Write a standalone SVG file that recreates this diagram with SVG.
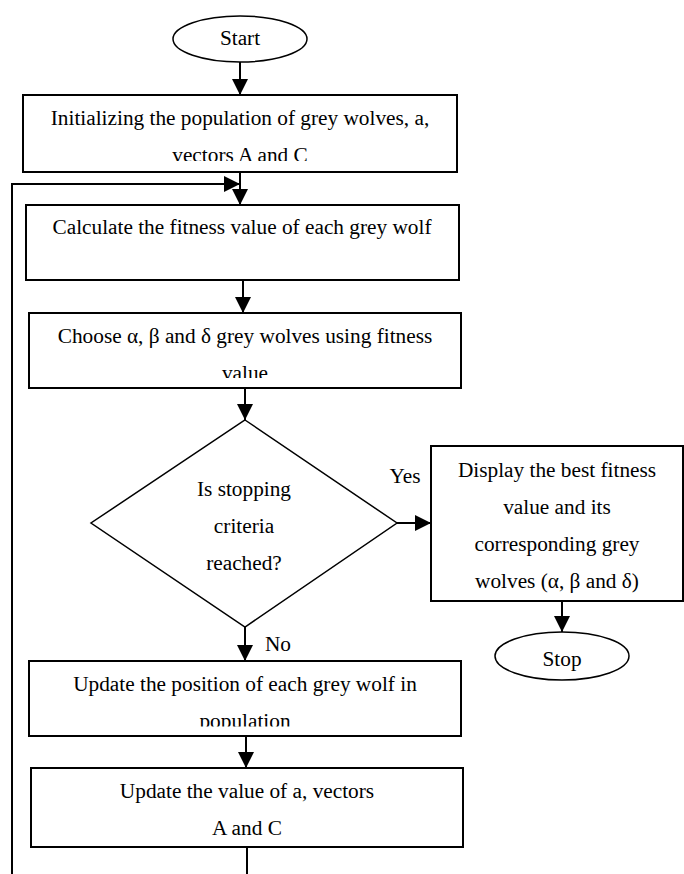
<svg xmlns="http://www.w3.org/2000/svg" width="684" height="874" viewBox="0 0 684 874">
<style>
text{font-family:"Liberation Serif","Times New Roman",serif;font-size:21.3px;fill:#000;text-anchor:middle}
.box{fill:#fff;stroke:#000;stroke-width:2}
.term{fill:#fff;stroke:#000;stroke-width:1.5}
.dec{fill:#fff;stroke:#000;stroke-width:1.5}
.con{fill:none;stroke:#000;stroke-width:2}
</style>
<defs>
<marker id="ah" markerUnits="userSpaceOnUse" markerWidth="16" markerHeight="16" viewBox="0 0 16 16" refX="16" refY="8" orient="auto">
<path d="M0,0 L16,8 L0,16 z" fill="#000"/>
</marker>
<clipPath id="c-init"><rect x="23" y="95" width="434" height="66"/></clipPath>
<clipPath id="c-choose"><rect x="29" y="313" width="432" height="65"/></clipPath>
<clipPath id="c-pos"><rect x="29" y="661" width="432" height="65.5"/></clipPath>
</defs>
<rect width="684" height="874" fill="#fff"/>
<g id="connectors">
<path class="con" d="M240,62 V95" marker-end="url(#ah)"/>
<path class="con" d="M240,172 V205" marker-end="url(#ah)"/>
<path class="con" d="M12,874 V184 H240" marker-end="url(#ah)"/>
<path class="con" d="M243,280 V313" marker-end="url(#ah)"/>
<path class="con" d="M245,388 V420" marker-end="url(#ah)"/>
<path class="con" d="M397,523 H431" marker-end="url(#ah)"/>
<path class="con" d="M562,601 V632" marker-end="url(#ah)"/>
<path class="con" d="M245,627 V661" marker-end="url(#ah)"/>
<path class="con" d="M246,736 V768" marker-end="url(#ah)"/>
<path class="con" d="M247,847 V874"/>
<text x="405" y="483">Yes</text>
<text x="278" y="651">No</text>
</g>
<g id="start">
<ellipse class="term" cx="240" cy="39" rx="67" ry="23"/>
<text x="240" y="45">Start</text>
</g>
<g id="init">
<rect class="box" x="23" y="95" width="434" height="77"/>
<g clip-path="url(#c-init)">
<text x="240" y="125">Initializing the population of grey wolves, a,</text>
<text x="240" y="162">vectors A and C</text>
</g>
</g>
<g id="fitness">
<rect class="box" x="26" y="205" width="433" height="75"/>
<text x="242" y="234">Calculate the fitness value of each grey wolf</text>
</g>
<g id="choose">
<rect class="box" x="29" y="313" width="432" height="75"/>
<g clip-path="url(#c-choose)">
<text x="245" y="343">Choose α, β and δ grey wolves using fitness</text>
<text x="245" y="380">value</text>
</g>
</g>
<g id="decision">
<polygon class="dec" points="245,420 397,523 245,627 91,523"/>
<text x="244" y="496">Is stopping</text>
<text x="244" y="533">criteria</text>
<text x="244" y="570">reached?</text>
</g>
<g id="display">
<rect class="box" x="431" y="446" width="252" height="155"/>
<text x="557" y="477">Display the best fitness</text>
<text x="557" y="514">value and its</text>
<text x="557" y="551">corresponding grey</text>
<text x="557" y="588">wolves (α, β and δ)</text>
</g>
<g id="stop">
<ellipse class="term" cx="562" cy="656" rx="67" ry="24"/>
<text x="562" y="666">Stop</text>
</g>
<g id="position">
<rect class="box" x="29" y="661" width="432" height="75"/>
<g clip-path="url(#c-pos)">
<text x="245" y="691">Update the position of each grey wolf in</text>
<text x="245" y="728">population</text>
</g>
</g>
<g id="update">
<rect class="box" x="31" y="768" width="432" height="79"/>
<text x="247" y="798">Update the value of a, vectors</text>
<text x="247" y="835">A and C</text>
</g>
</svg>
